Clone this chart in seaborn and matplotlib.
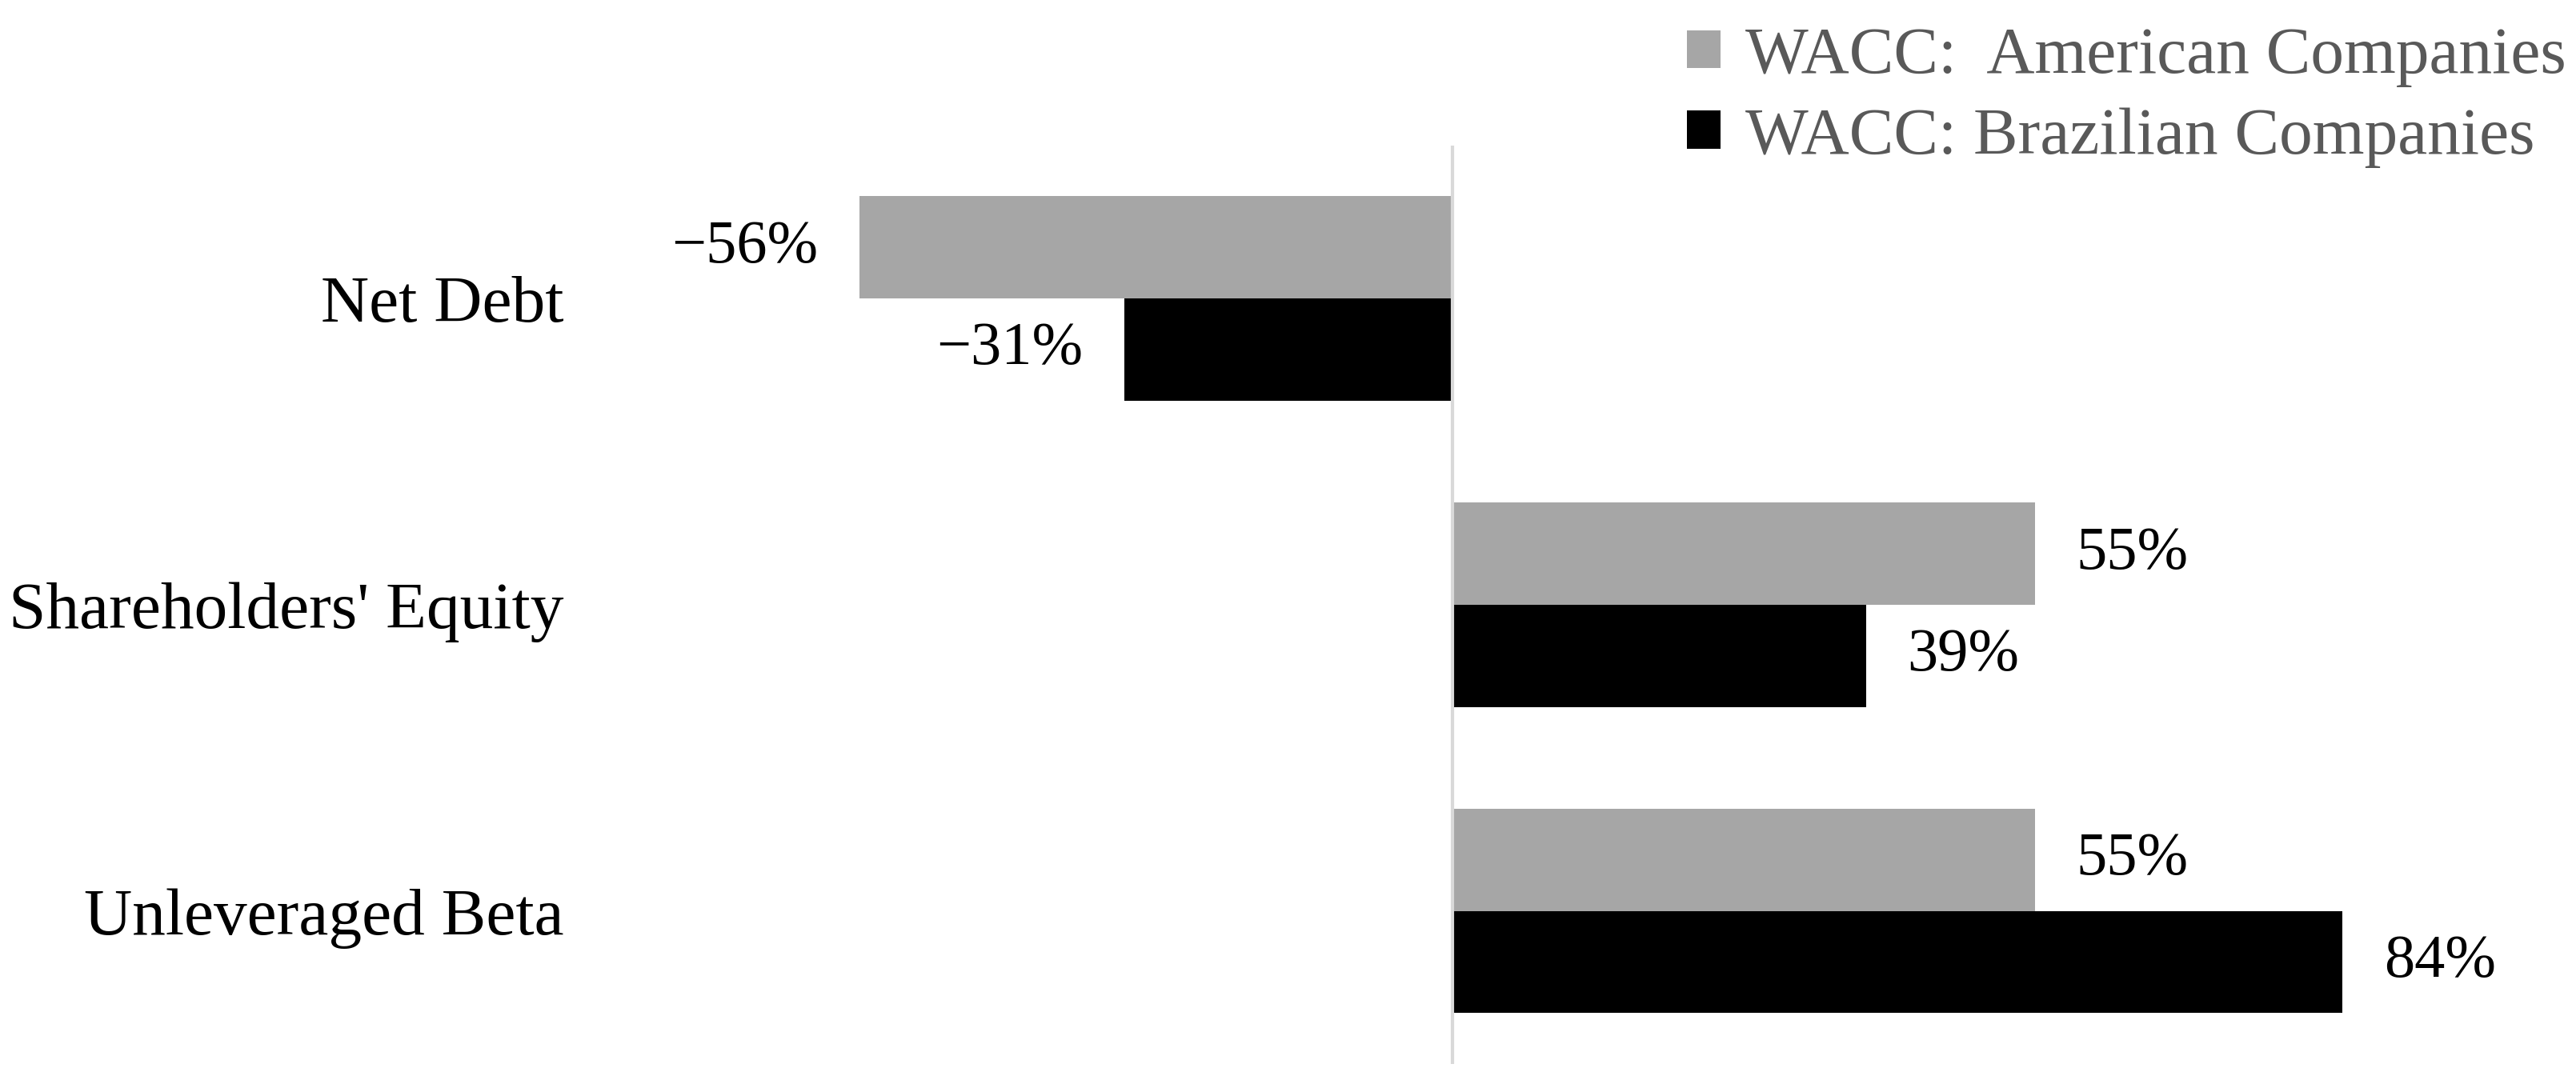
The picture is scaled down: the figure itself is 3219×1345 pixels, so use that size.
import pandas as pd
import seaborn as sns
from matplotlib import pyplot as plt
from matplotlib.patches import Patch

# WACC sensitivity (percent)
categories = ["Net Debt", "Shareholders' Equity", "Unleveraged Beta"]
series_names = ["WACC:  American Companies", "WACC: Brazilian Companies"]
american = [-56, 55, 55]
brazilian = [-31, 39, 84]
colors = ["#a6a6a6", "#000000"]

df = pd.DataFrame({
    "Factor": categories * 2,
    "Series": [series_names[0]] * 3 + [series_names[1]] * 3,
    "Value": american + brazilian,
})

sns.set_theme(style="white")
plt.rcParams['font.family'] = ['Liberation Serif', 'DejaVu Serif']

fig = plt.figure(figsize=(32.19, 13.45), dpi=100)
ax = fig.add_axes([0.2349, 0.011, 0.7403, 0.854])

sns.barplot(data=df, x="Value", y="Factor", hue="Series", order=categories,
            hue_order=series_names, palette=colors, orient="h", width=0.667,
            errorbar=None, legend=False, saturation=1, linewidth=0, ax=ax)

for cont in ax.containers:
    labels = [f"{b.get_width():.0f}%".replace("-", "\u2212") for b in cont]
    ax.bar_label(cont, labels=labels, padding=37, fontsize=55, color="black")

ax.axvline(0, color="#d9d9d9", lw=3, zorder=5)
ax.set_xlim(-80, 100)
ax.set_ylim(2.5, -0.5)
ax.set_xlabel("")
ax.set_ylabel("")
ax.set_xticks([])
ax.tick_params(axis="y", length=0, pad=37, labelsize=60, labelcolor="black")
for s in ax.spines.values():
    s.set_visible(False)

handles = [Patch(facecolor=c, edgecolor="none") for c in colors]
leg = fig.legend(handles, series_names, loc="upper left",
                 bbox_to_anchor=(0.655, 0.975), frameon=False, fontsize=60,
                 handlelength=0.5, handleheight=0.5, handletextpad=0.37,
                 labelspacing=0.3, borderpad=0, borderaxespad=0)
for t in leg.get_texts():
    t.set_color("#595959")

plt.savefig("out.png", dpi=100)
